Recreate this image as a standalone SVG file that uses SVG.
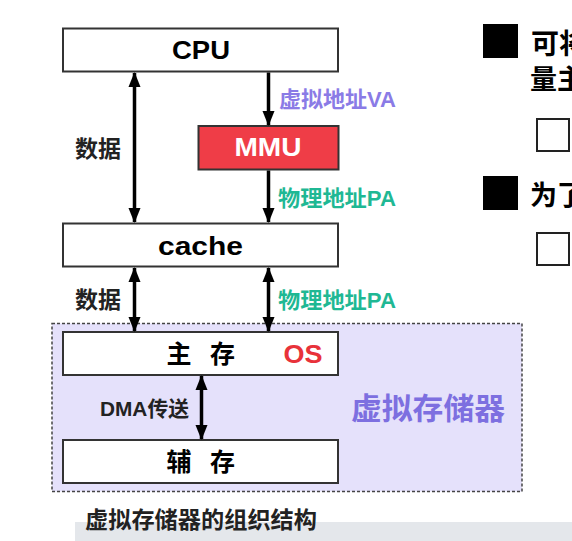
<svg xmlns="http://www.w3.org/2000/svg" width="572" height="541" viewBox="0 0 572 541">
<defs>
<style>
text{font-family:"Liberation Sans","Noto Sans CJK SC",sans-serif;font-weight:bold}
.box{fill:#fff;stroke:#333;stroke-width:2}
.c{text-anchor:middle}
.ln{stroke:#000;stroke-width:3.5;fill:none}
.va{fill:#8a7be6}
.pa{fill:#1fb894}
.dk{fill:#222}
</style>
<marker id="ah" viewBox="0 0 15 13" refX="14" refY="6.5" markerWidth="15" markerHeight="13" markerUnits="userSpaceOnUse" orient="auto-start-reverse">
<path d="M0,0.5 L15,6.5 L0,12.5 Z" fill="#000"/>
</marker>
</defs>
<rect width="572" height="541" fill="#fff"/>
<rect x="75" y="522" width="497" height="19" fill="#e4e7eb"/>
<g id="vm">
<rect x="52" y="323.5" width="470" height="168" fill="#e5e1fb" stroke="#444" stroke-width="1.5" stroke-dasharray="3,2"/>
<text x="351" y="419" font-size="30" fill="#7d6fe0" textLength="154" lengthAdjust="spacingAndGlyphs">虚拟存储器</text>
</g>
<g id="cpu"><rect class="box" x="63" y="28.5" width="275" height="43"/><text x="172" y="59" font-size="26" textLength="58" lengthAdjust="spacingAndGlyphs">CPU</text></g>
<g id="mmu"><rect x="198.5" y="126" width="140" height="43.5" fill="#ef3d47" stroke="#333" stroke-width="2"/><text x="234.5" y="156" font-size="26" fill="#fff" textLength="67" lengthAdjust="spacingAndGlyphs">MMU</text></g>
<g id="cache"><rect class="box" x="63" y="223.5" width="275" height="43"/><text x="158" y="255" font-size="25" textLength="85" lengthAdjust="spacingAndGlyphs">cache</text></g>
<g id="main"><rect class="box" x="63" y="332" width="275" height="43"/><text x="179" y="363" class="c" font-size="25">主</text><text x="222.5" y="363" class="c" font-size="25">存</text><text x="283.5" y="363" font-size="25" fill="#e8323a" textLength="39" lengthAdjust="spacingAndGlyphs">OS</text></g>
<g id="aux"><rect class="box" x="63" y="440" width="275" height="43"/><text x="179" y="471" class="c" font-size="25">辅</text><text x="222.5" y="471" class="c" font-size="25">存</text></g>
<g id="connectors">
<line class="ln" x1="134.5" y1="73" x2="134.5" y2="222" marker-start="url(#ah)" marker-end="url(#ah)"/>
<line class="ln" x1="268.5" y1="72.5" x2="268.5" y2="125" marker-end="url(#ah)"/>
<line class="ln" x1="268.5" y1="170.5" x2="268.5" y2="222" marker-end="url(#ah)"/>
<line class="ln" x1="134.5" y1="268" x2="134.5" y2="331" marker-start="url(#ah)" marker-end="url(#ah)"/>
<line class="ln" x1="268.5" y1="268" x2="268.5" y2="331" marker-start="url(#ah)" marker-end="url(#ah)"/>
<line class="ln" x1="201.5" y1="376" x2="201.5" y2="439" marker-start="url(#ah)" marker-end="url(#ah)"/>
</g>
<g id="labels">
<text x="75" y="157" font-size="23" class="dk">数据</text>
<text x="279" y="107" font-size="22" class="va" textLength="117" lengthAdjust="spacingAndGlyphs">虚拟地址VA</text>
<text x="278" y="206" font-size="22" class="pa" textLength="118" lengthAdjust="spacingAndGlyphs">物理地址PA</text>
<text x="75" y="308" font-size="23" class="dk">数据</text>
<text x="278" y="308" font-size="22" class="pa" textLength="118" lengthAdjust="spacingAndGlyphs">物理地址PA</text>
<text x="100" y="416" font-size="21" class="dk" textLength="89" lengthAdjust="spacingAndGlyphs">DMA传送</text>
<text x="85" y="528" font-size="23" class="dk" textLength="232" lengthAdjust="spacingAndGlyphs">虚拟存储器的组织结构</text>
</g>
<g id="side">
<rect x="483" y="24" width="35" height="34" fill="#000"/>
<text x="531" y="54" font-size="28" fill="#000">可将</text>
<text x="530" y="89" font-size="27" fill="#000">量主</text>
<rect x="537" y="119" width="32" height="32" fill="#fff" stroke="#222" stroke-width="2"/>
<rect x="483" y="176" width="35" height="34" fill="#000"/>
<text x="530" y="205" font-size="27" fill="#000">为了</text>
<rect x="537" y="233" width="32" height="32" fill="#fff" stroke="#222" stroke-width="2"/>
</g>
</svg>
